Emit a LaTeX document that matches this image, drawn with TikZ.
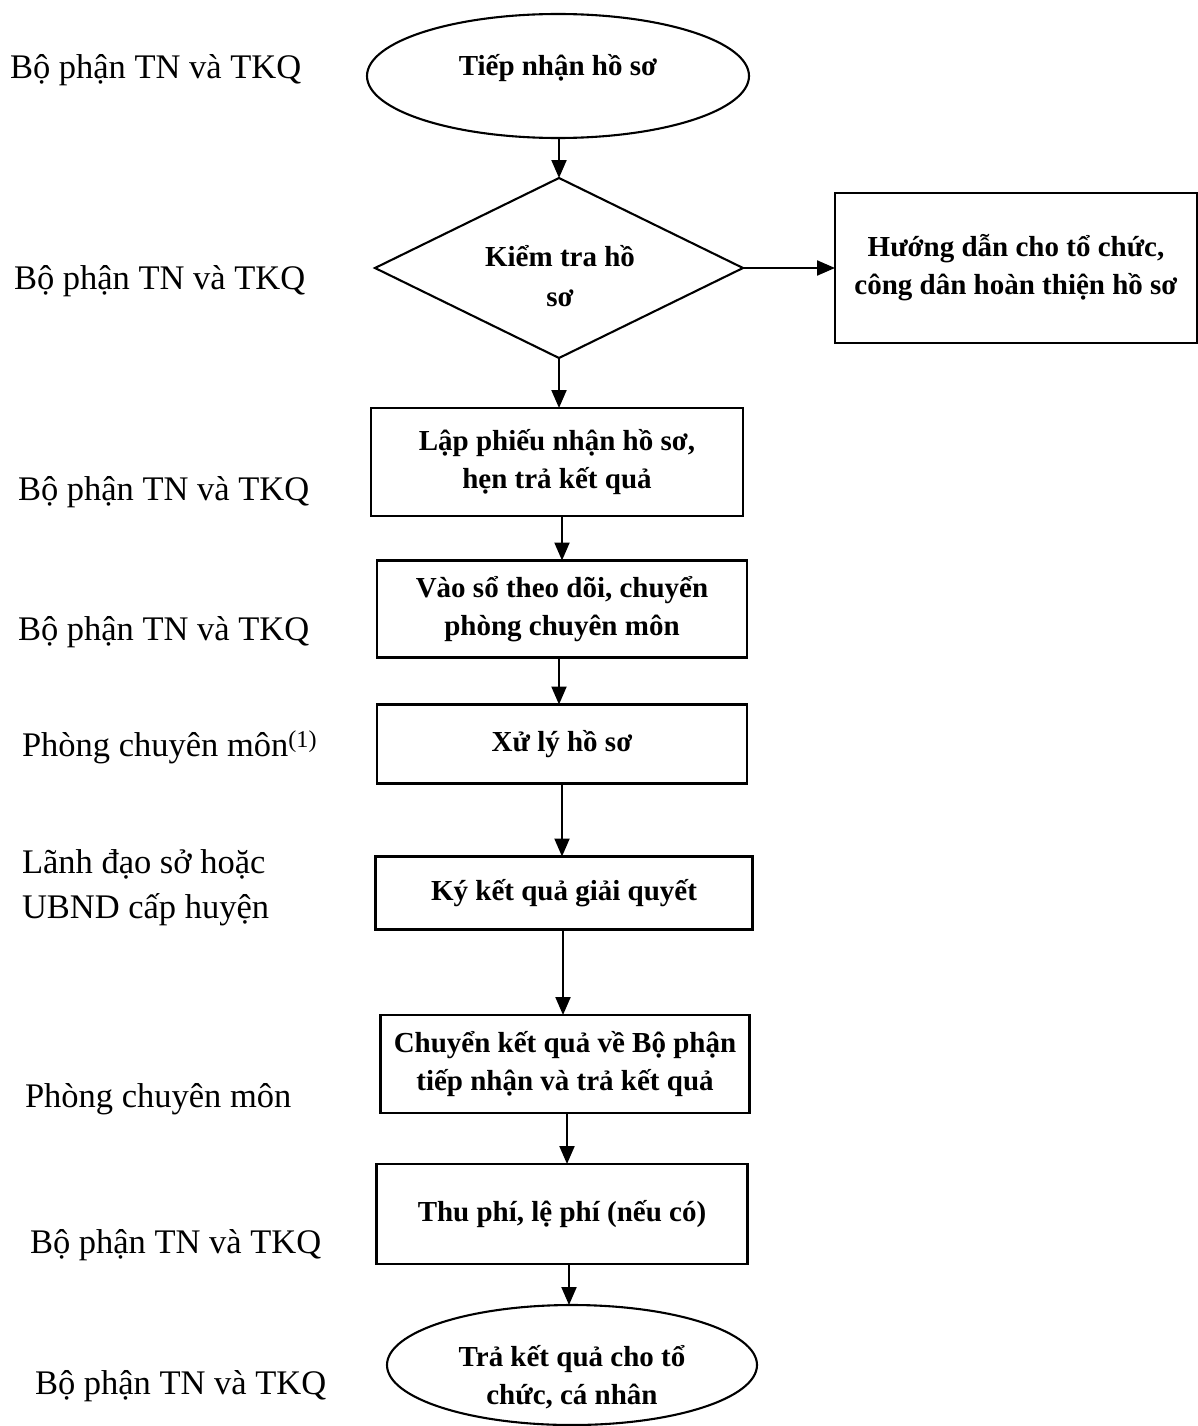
\documentclass[tikz,border=0pt]{standalone}
\usepackage{fontspec}
\setmainfont{Liberation Serif}
\usetikzlibrary{shapes.geometric,arrows.meta}
\begin{document}
\begin{tikzpicture}[x=1pt,y=-1pt,
  every node/.style={inner sep=0pt,outer sep=0pt},
  lane/.style={font=\fontsize{34.5}{45}\selectfont,anchor=west,align=left},
  boxtext/.style={font=\fontsize{29}{38}\selectfont\bfseries,align=center},
  procbox/.style={boxtext,draw,line width=2.1pt,rectangle},
  termbox/.style={draw,line width=2.1pt,ellipse},
  decbox/.style={draw,line width=2.1pt,diamond},
  flow/.style={line width=2.1pt,-{Triangle[length=18pt,width=15pt]}}]
\useasboundingbox (0,0) rectangle (1198,1426);

% left lane labels
\node[lane] (l1) at (10,70) {Bộ phận TN và TKQ};
\node[lane] (l2) at (14,281) {Bộ phận TN và TKQ};
\node[lane] (l3) at (18,492) {Bộ phận TN và TKQ};
\node[lane] (l4) at (18,632) {Bộ phận TN và TKQ};
\node[lane] (l5) at (22,747) {Phòng chuyên môn\textsuperscript{(1)}};
\node[lane] (l6) at (22,888) {Lãnh đạo sở hoặc\\UBND cấp huyện};
\node[lane] (l7) at (25,1099) {Phòng chuyên môn};
\node[lane] (l8) at (30,1245) {Bộ phận TN và TKQ};
\node[lane] (l9) at (35,1386) {Bộ phận TN và TKQ};

% flow shapes
\node[termbox,minimum width=382pt,minimum height=124pt] (n1) at (558,76) {};
\node[boxtext] (t1) at (558,68) {Tiếp nhận hồ sơ};
\node[decbox,minimum width=368pt,minimum height=180pt,aspect=2.04] (n2) at (559,268) {};
\node[boxtext,font=\fontsize{29}{40}\selectfont\bfseries] (t2) at (560,276) {Kiểm tra hồ\\sơ};
\node[procbox,minimum width=362pt,minimum height=150pt] (nr) at (1016,268) {Hướng dẫn cho tổ chức,\\công dân hoàn thiện hồ sơ};
\node[procbox,minimum width=372pt,minimum height=108pt] (n3) at (557,462) {Lập phiếu nhận hồ sơ,\\hẹn trả kết quả};
\node[procbox,minimum width=370pt,minimum height=97pt] (n4) at (562,609) {Vào sổ theo dõi, chuyển\\phòng chuyên môn};
\node[procbox,minimum width=370pt,minimum height=79pt] (n5) at (562,744) {Xử lý hồ sơ};
\node[procbox,minimum width=377pt,minimum height=73pt] (n6) at (564,893) {Ký kết quả giải quyết};
\node[procbox,minimum width=369pt,minimum height=98pt] (n7) at (565,1064) {Chuyển kết quả về Bộ phận\\tiếp nhận và trả kết quả};
\node[procbox,minimum width=371pt,minimum height=100pt] (n8) at (562,1214) {Thu phí, lệ phí (nếu có)};
\node[termbox,minimum width=370pt,minimum height=120pt] (n9) at (572,1365) {};
\node[boxtext] (t9) at (572,1377) {Trả kết quả cho tổ\\chức, cá nhân};

% connectors
\draw[flow] (n1.south -| n2.north) -- (n2.north);
\draw[flow] (n2.east) -- (nr.west);
\draw[flow] (n2.south) -- (n2.south |- n3.north);
\draw[flow] (n3.south -| 562,0) -- (n4.north);
\draw[flow] (n4.south -| 559,0) -- (n5.north -| 559,0);
\draw[flow] (n5.south -| 562,0) -- (n6.north -| 562,0);
\draw[flow] (n6.south -| 563,0) -- (n7.north -| 563,0);
\draw[flow] (n7.south -| 567,0) -- (n8.north -| 567,0);
\draw[flow] (n8.south -| 569,0) -- (n9.north -| 569,0);
\end{tikzpicture}
\end{document}
